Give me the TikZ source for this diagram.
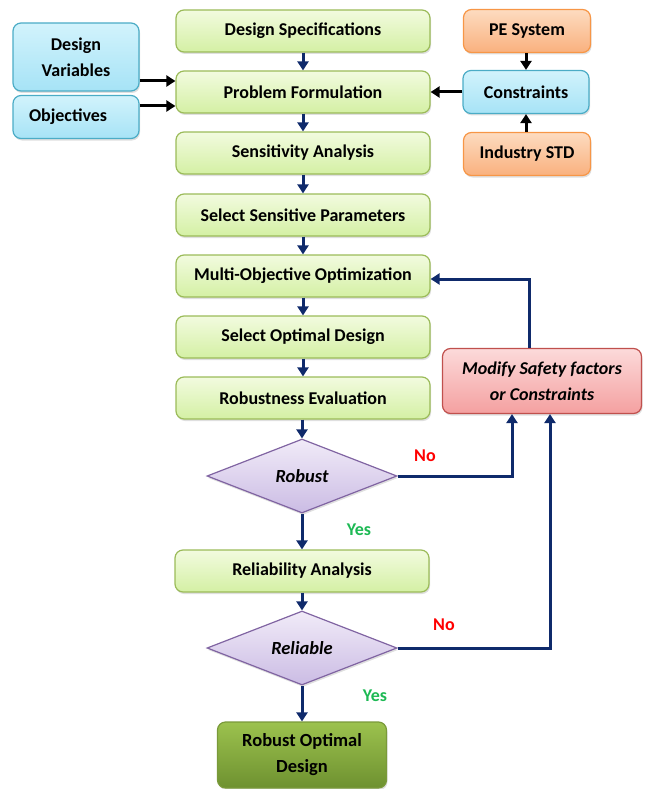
\documentclass[tikz,border=0pt]{standalone}
\usepackage{fontspec}
\setmainfont{Carlito}
\usetikzlibrary{shapes.geometric,arrows.meta,shadows}
\definecolor{gborder}{HTML}{9BBB59}
\definecolor{gtop}{HTML}{F2FBDF}
\definecolor{gbot}{HTML}{D4F0A4}
\definecolor{bborder}{HTML}{4BACC6}
\definecolor{btop}{HTML}{D2F3FC}
\definecolor{bbot}{HTML}{A6E3F6}
\definecolor{oborder}{HTML}{F79646}
\definecolor{otop}{HTML}{FDDCC0}
\definecolor{obot}{HTML}{F9B07E}
\definecolor{rborder}{HTML}{C0504D}
\definecolor{rtop}{HTML}{FCDADA}
\definecolor{rbot}{HTML}{F4A0A0}
\definecolor{pborder}{HTML}{8064A2}
\definecolor{ptop}{HTML}{F1EBF8}
\definecolor{pbot}{HTML}{CBBCE4}
\definecolor{ftop}{HTML}{9CC24E}
\definecolor{fbot}{HTML}{6E9130}
\definecolor{fborder}{HTML}{7A9A3A}
\definecolor{navy}{HTML}{0F2A6B}
\definecolor{nored}{HTML}{FF0000}
\definecolor{yesgreen}{HTML}{1DB954}
\tikzset{
  base/.style={rounded corners=8pt, line width=1.2pt, align=center, inner sep=0pt,
    font=\fontsize{18}{26}\selectfont\bfseries,
    drop shadow={shadow xshift=1pt, shadow yshift=-2pt, opacity=0.25}},
  gbox/.style={base, draw=gborder, top color=gtop, bottom color=gbot, minimum width=254pt, minimum height=42pt},
  bbox/.style={base, draw=bborder, top color=btop, bottom color=bbot},
  obox/.style={base, draw=oborder, top color=otop, bottom color=obot, minimum width=127pt, minimum height=43pt},
  rbox/.style={base, draw=rborder, top color=rtop, bottom color=rbot, font=\fontsize{18}{26}\selectfont\bfseries\itshape},
  dia/.style={diamond, draw=pborder, line width=1.2pt, top color=ptop, bottom color=pbot, inner sep=0pt,
    minimum width=190pt, minimum height=74pt, aspect=2.57, font=\fontsize{18.5}{22}\selectfont\bfseries\itshape,
    drop shadow={shadow xshift=1pt, shadow yshift=-2pt, opacity=0.25}},
  fbox/.style={base, draw=fborder, top color=ftop, bottom color=fbot, font=\fontsize{18.5}{26}\selectfont\bfseries},
  flow/.style={navy, line width=3pt, -{Triangle[width=11pt,length=9pt]}},
  blk/.style={black, line width=3pt, -{Triangle[width=11pt,length=9pt]}},
  lab/.style={font=\fontsize{18}{20}\selectfont\bfseries}
}
\begin{document}
\begin{tikzpicture}[x=1pt,y=-1pt]
\useasboundingbox (0,0) rectangle (650,789);
% main column
\node[gbox] (spec) at (303,31) {Design Specifications};
\node[gbox] (prob) at (303,92) {Problem Formulation};
\node[gbox] (sens) at (303,153) {Sensitivity Analysis};
\node[gbox] (sel) at (303,215) {Select Sensitive Parameters};
\node[gbox] (moo) at (303,276) {Multi-Objective Optimization};
\node[gbox] (opt) at (303,337) {Select Optimal Design};
\node[gbox] (rob) at (303,398) {Robustness Evaluation};
\node[dia] (robust) at (302,476) {Robust};
\node[gbox] (rel) at (302,571) {Reliability Analysis};
\node[dia] (reliable) at (302,648) {Reliable};
\node[fbox, minimum width=169pt, minimum height=66pt] (final) at (302,755) {Robust Optimal\\Design};
% left inputs
\node[bbox, minimum width=126pt, minimum height=68pt] (dv) at (76,57) {Design\\Variables};
\node[bbox, minimum width=126pt, minimum height=43pt, text width=94pt, align=left] (obj) at (76,117) {Objectives};
% right inputs
\node[obox] (pe) at (527,31) {PE System};
\node[bbox, minimum width=126pt, minimum height=43pt] (con) at (526,92) {Constraints};
\node[obox] (ind) at (527,154) {Industry STD};
% modify
\node[rbox, minimum width=199pt, minimum height=65pt] (mod) at (542,381) {Modify Safety factors\\or Constraints};
% flow arrows
\draw[flow] (spec) -- (prob);
\draw[flow] (prob) -- (sens);
\draw[flow] (sens) -- (sel);
\draw[flow] (sel) -- (moo);
\draw[flow] (moo) -- (opt);
\draw[flow] (opt) -- (rob);
\draw[flow] (rob.south -| robust.north) -- (robust.north);
\draw[flow] (robust) -- (rel);
\draw[flow] (rel) -- (reliable);
\draw[flow] (reliable) -- (final);
% black arrows
\draw[blk] (dv.east |- 0,81) -- (prob.west |- 0,81);
\draw[blk] (obj.east |- 0,106) -- (prob.west |- 0,106);
\draw[blk] (con) -- (prob);
\draw[blk] (pe.south -| con.north) -- (con.north);
\draw[blk] (ind.north -| con.south) -- (con.south);
% feedback
\coordinate (m1) at (529,279);
\draw[flow] (mod.north -| m1) -- (m1) -- (moo.east |- m1);
\coordinate (r1) at (512,476);
\draw[flow] (robust.east) -- (r1) -- (r1 |- mod.south);
\coordinate (r2) at (550,648);
\draw[flow] (reliable.east) -- (r2) -- (r2 |- mod.south);
% labels
\node[lab, text=nored] (no1) at (425,456) {No};
\node[lab, text=nored] (no2) at (444,625) {No};
\node[lab, text=yesgreen] (yes1) at (359,530) {Yes};
\node[lab, text=yesgreen] (yes2) at (375,696) {Yes};
\end{tikzpicture}
\end{document}
